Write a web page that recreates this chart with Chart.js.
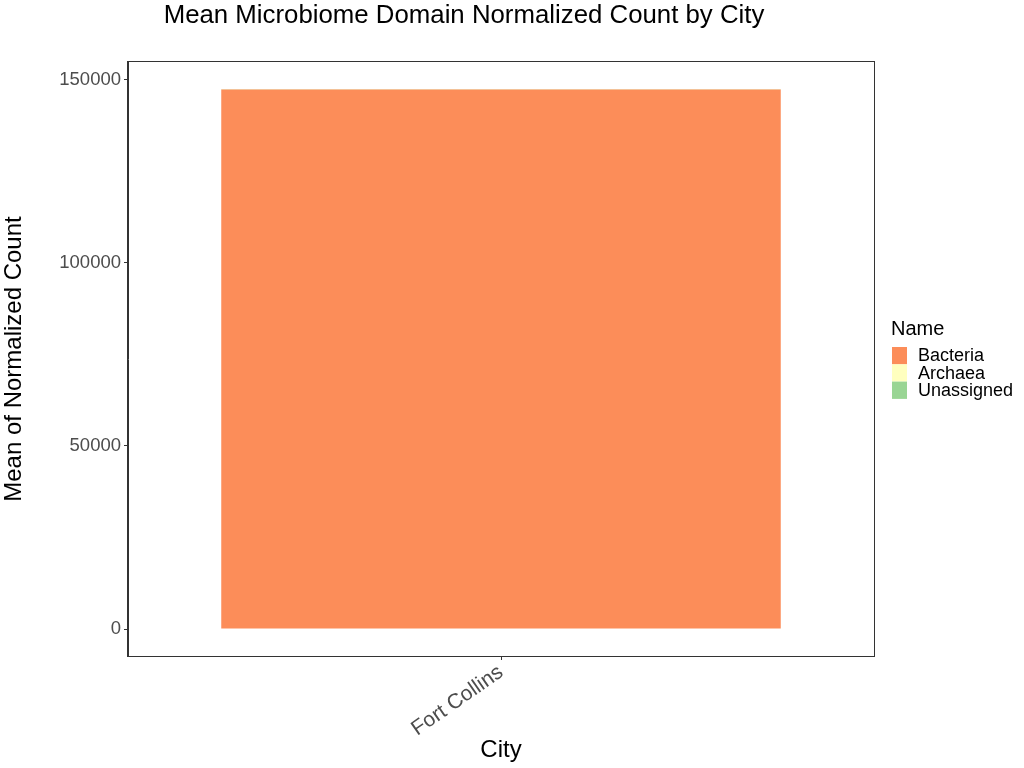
<!DOCTYPE html>
<html>
<head>
<meta charset="utf-8">
<script src="https://cdn.jsdelivr.net/npm/chart.js@4.4.0/dist/chart.umd.min.js"></script>
<style>
  html, body { margin: 0; padding: 0; background: #ffffff; }
  #wrap { position: relative; width: 1024px; height: 768px; }
  canvas { display: block; }
</style>
</head>
<body>
<div id="wrap"><canvas id="c" width="1024" height="768"></canvas></div>
<script>
// ---- data ----
const cities = ["Fort Collins"];
const domainNames = ["Bacteria", "Archaea", "Unassigned"];
const bacteria = [147300];
const archaea = [120];
const unassigned = [40];
const domainColors = ["#FC8D59", "#FFFFBF", "#99D594"];
const yTickValues = [0, 50000, 100000, 150000];
const chartTitle = "Mean Microbiome Domain Normalized Count by City";
const xTitle = "City";
const yTitle = "Mean of Normalized Count";
const legendTitle = "Name";

const FONT = "'Liberation Sans', Arial, sans-serif";
const seriesValues = [bacteria, archaea, unassigned];

const totals = cities.map((_, i) => seriesValues.reduce((s, arr) => s + arr[i], 0));
const maxTotal = Math.max(...totals);
const pad = maxTotal * 0.05;

const panelPlugin = {
  id: 'panelDeco',
  afterDraw(chart) {
    const { ctx, chartArea: a } = chart;
    ctx.save();
    // panel border
    ctx.strokeStyle = '#333333';
    ctx.lineWidth = 1;
    ctx.strokeRect(Math.round(a.left) - 0.5, Math.round(a.top) - 0.5,
                   Math.round(a.right - a.left) + 1, Math.round(a.bottom - a.top) + 1);
    // title
    ctx.fillStyle = '#000000';
    ctx.font = `25.8px ${FONT}`;
    ctx.textAlign = 'center';
    ctx.textBaseline = 'middle';
    ctx.fillText(chartTitle, 464, 16);
    // legend
    ctx.textAlign = 'left';
    ctx.font = `20px ${FONT}`;
    ctx.fillText(legendTitle, 891, 329);
    ctx.font = `18px ${FONT}`;
    domainNames.forEach((n, i) => {
      const y = 347 + i * 17.3;
      ctx.fillStyle = domainColors[i];
      ctx.fillRect(892, y, 15, 17.3);
      ctx.fillStyle = '#000000';
      ctx.fillText(n, 918, y + 9.5);
    });
    ctx.restore();
  }
};

new Chart(document.getElementById('c'), {
  type: 'bar',
  data: {
    labels: cities,
    datasets: domainNames.map((n, i) => ({
      label: n,
      data: seriesValues[i],
      backgroundColor: domainColors[i],
      borderWidth: 0,
      barPercentage: 0.75,
      categoryPercentage: 1.0
    }))
  },
  options: {
    responsive: false,
    animation: false,
    devicePixelRatio: 1,
    layout: { padding: { left: 0, top: 62, right: 150, bottom: 0 } },
    plugins: { legend: { display: false }, title: { display: false }, tooltip: { enabled: false } },
    scales: {
      x: {
        stacked: true,
        offset: true,
        grid: { display: true, offset: false, drawOnChartArea: false, drawTicks: true, tickLength: 4, color: '#333333' },
        border: { display: true, color: '#333333' },
        ticks: {
          color: '#4d4d4d', font: { family: FONT, size: 21 },
          minRotation: 35, maxRotation: 35, padding: 0
        },
        title: { display: true, text: xTitle, color: '#000000', font: { family: FONT, size: 24 }, padding: { top: 0, bottom: 3 } },
        afterFit(scale) { scale.height = 112; }
      },
      y: {
        stacked: true,
        min: -pad,
        max: maxTotal + pad,
        grid: { display: true, drawOnChartArea: false, drawTicks: true, tickLength: 4, color: '#333333' },
        border: { display: true, color: '#333333' },
        afterBuildTicks(scale) { scale.ticks = yTickValues.map(v => ({ value: v })); },
        ticks: {
          color: '#4d4d4d', font: { family: FONT, size: 18.5 }, padding: 3,
          callback: (v) => String(v)
        },
        title: { display: true, text: yTitle, color: '#000000', font: { family: FONT, size: 24 }, padding: { top: 0, bottom: 0 } },
        afterFit(scale) { scale.width = 128; }
      }
    }
  },
  plugins: [panelPlugin]
});
</script>
</body>
</html>
